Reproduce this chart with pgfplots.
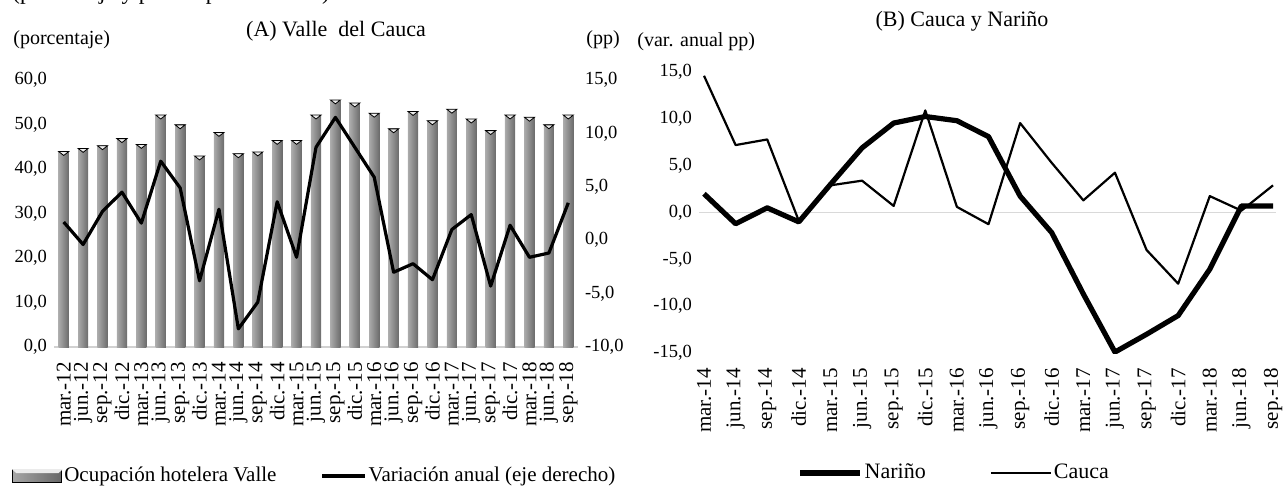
\documentclass[border=0pt]{standalone}
\usepackage{fontspec}
\setmainfont{Liberation Serif}
\usepackage{pgfplots}
\pgfplotsset{compat=1.18}

% 1 px of the reference = 0.5pt, origin at the top left corner
\pgfplotsset{
  panel/.style={
    scale only axis, anchor=south west,
    axis line style={draw=none}, tick style={draw=none},
    /pgf/number format/.cd, fixed, fixed zerofill, precision=1, use comma,
    assume math mode=true, /pgfplots/.cd,
    yticklabel style={font=\fontsize{9.25}{11}\selectfont},
    xticklabel style={rotate=90, anchor=east, font=\fontsize{10.5}{12}\selectfont},
    xticklabel shift=4pt,
    legend cell align=left,
  },
  lineimg/.style={legend image code/.code={\draw[##1] (0pt,0pt) -- (#1,0pt);}},
  % one bar per plot so that every bar gets its own shading
  bar/.style={ybar, bar shift=0pt, bar width=5.1pt, draw=none, forget plot,
    left color=black!33, middle color=black!20, right color=black!58},
}

\begin{document}
\begin{tikzpicture}
\useasboundingbox (0,0) rectangle (644pt,-243.5pt);
\clip (0,0) rectangle (644pt,-243.5pt);

% ---------- (A) Valle del Cauca: bars, left axis
\begin{axis}[panel, at={(27pt,-173.5pt)}, width=262pt, height=133.5pt,
  xmin=-0.5, xmax=26.5, ymin=0, ymax=60, ytick={0,10,...,60},
  xtick={0,...,26},
  xticklabels={mar.-12,jun.-12,sep.-12,dic.-12,mar.-13,jun.-13,sep.-13,dic.-13,
    mar.-14,jun.-14,sep.-14,dic.-14,mar.-15,jun.-15,sep.-15,dic.-15,
    mar.-16,jun.-16,sep.-16,dic.-16,mar.-17,jun.-17,sep.-17,dic.-17,
    mar.-18,jun.-18,sep.-18},
  extra y ticks={0}, extra y tick labels={},
  extra y tick style={grid=major, major grid style={black!18, line width=1pt}},
]
\addplot[bar] coordinates {(0,43.9)};
\addplot[bar] coordinates {(1,44.6)};
\addplot[bar] coordinates {(2,45.2)};
\addplot[bar] coordinates {(3,46.8)};
\addplot[bar] coordinates {(4,45.5)};
\addplot[bar] coordinates {(5,52.1)};
\addplot[bar] coordinates {(6,49.9)};
\addplot[bar] coordinates {(7,42.9)};
\addplot[bar] coordinates {(8,48.2)};
\addplot[bar] coordinates {(9,43.4)};
\addplot[bar] coordinates {(10,43.8)};
\addplot[bar] coordinates {(11,46.4)};
\addplot[bar] coordinates {(12,46.4)};
\addplot[bar] coordinates {(13,52.1)};
\addplot[bar] coordinates {(14,55.5)};
\addplot[bar] coordinates {(15,54.8)};
\addplot[bar] coordinates {(16,52.5)};
\addplot[bar] coordinates {(17,49.0)};
\addplot[bar] coordinates {(18,52.9)};
\addplot[bar] coordinates {(19,50.8)};
\addplot[bar] coordinates {(20,53.4)};
\addplot[bar] coordinates {(21,51.2)};
\addplot[bar] coordinates {(22,48.6)};
\addplot[bar] coordinates {(23,52.1)};
\addplot[bar] coordinates {(24,51.6)};
\addplot[bar] coordinates {(25,49.9)};
\addplot[bar] coordinates {(26,52.1)};
% light bevel on top of each bar
\addplot[only marks, mark=triangle*, mark size=2.9pt,
  mark options={yshift=-0.6pt, rotate=180, yscale=0.45, fill=black!7, draw=none}]
  coordinates {(0,43.9) (1,44.6) (2,45.2) (3,46.8) (4,45.5) (5,52.1) (6,49.9)
    (7,42.9) (8,48.2) (9,43.4) (10,43.8) (11,46.4) (12,46.4) (13,52.1)
    (14,55.5) (15,54.8) (16,52.5) (17,49.0) (18,52.9) (19,50.8) (20,53.4)
    (21,51.2) (22,48.6) (23,52.1) (24,51.6) (25,49.9) (26,52.1)};
\end{axis}

% ---------- (A) annual change, right axis
\begin{axis}[panel, at={(27pt,-173.5pt)}, width=262pt, height=133.5pt,
  xmin=-0.5, xmax=26.5, ymin=-10, ymax=15, ytick={-10,-5,...,15},
  xtick=\empty, yticklabel pos=right, ytick pos=right,
  legend columns=2,
  legend style={at={(-0.080,-0.483)}, anchor=west, draw=none, fill=none,
    inner sep=0pt, font=\fontsize{10.5}{12}\selectfont,
    nodes={inner sep=1pt},
    /tikz/every even column/.append style={column sep=21pt}},
]
\addlegendimage{legend image code/.code={
  \fill[left color=black!35, middle color=black!22, right color=black!60] (0pt,-3.25pt) rectangle (24.5pt,3.25pt);
  \fill[black!8] (0pt,3.25pt) -- (1.8pt,1.6pt) -- (22.7pt,1.6pt) -- (24.5pt,3.25pt) -- cycle;}}
\addlegendentry{Ocupación hotelera Valle}
\addplot[black, line width=1.6pt, line join=round, lineimg=21.5pt]
  coordinates {(0,1.7) (1,-0.4) (2,2.7) (3,4.5) (4,1.6) (5,7.4) (6,4.9)
    (7,-3.8) (8,2.9) (9,-8.3) (10,-5.8) (11,3.6) (12,-1.6) (13,8.7)
    (14,11.5) (15,8.7) (16,5.9) (17,-3.0) (18,-2.2) (19,-3.7) (20,1.0)
    (21,2.4) (22,-4.3) (23,1.4) (24,-1.6) (25,-1.2) (26,3.5)};
\addlegendentry{Variación anual (eje derecho)}
\end{axis}

% ---------- (B) Cauca y Nariño
\begin{axis}[panel, at={(349.5pt,-176.5pt)}, width=288.5pt, height=140.5pt,
  xmin=-0.158, xmax=18.095, ymin=-15, ymax=15, ytick={-15,-10,...,15},
  xtick={0,...,18},
  xticklabels={mar.-14,jun.-14,sep.-14,dic.-14,mar.-15,jun.-15,sep.-15,dic.-15,
    mar.-16,jun.-16,sep.-16,dic.-16,mar.-17,jun.-17,sep.-17,dic.-17,
    mar.-18,jun.-18,sep.-18},
  extra y ticks={0}, extra y tick labels={},
  extra y tick style={grid=major, major grid style={black!15, line width=0.9pt}},
  legend columns=2,
  legend style={at={(0.170,-0.427)}, anchor=west, draw=none, fill=none,
    inner sep=0pt, font=\fontsize{11}{13}\selectfont,
    nodes={inner sep=1pt},
    /tikz/every even column/.append style={column sep=31pt}},
]
\addplot[black, line width=2.6pt, line join=round, lineimg=30pt]
  coordinates {(0,2.0) (1,-1.2) (2,0.5) (3,-1.0) (4,3.0) (5,6.9) (6,9.55)
    (7,10.25) (8,9.8) (9,8.1) (10,1.75) (11,-2.15) (12,-8.7) (13,-14.9)
    (14,-13.0) (15,-11.0) (16,-6.05) (17,0.7) (18,0.7)};
\addlegendentry{Nariño}
\addplot[black, line width=1.1pt, line join=round, lineimg=30pt]
  coordinates {(0,14.6) (1,7.2) (2,7.8) (3,-0.9) (4,2.9) (5,3.4) (6,0.7)
    (7,10.9) (8,0.6) (9,-1.25) (10,9.55) (11,5.3) (12,1.3) (13,4.25)
    (14,-4.0) (15,-7.6) (16,1.75) (17,0.2) (18,2.9)};
\addlegendentry{Cauca}
\end{axis}

% ---------- titles and unit labels
\node[anchor=base west, inner sep=0pt, font=\fontsize{11.5}{13}\selectfont]
  at (6pt,0pt) {(porcentaje y puntos porcentuales)};
\node[anchor=west, inner sep=0pt, font=\fontsize{10}{12}\selectfont]
  at (6.5pt,-20pt) {(porcentaje)};
\node[inner sep=0pt, font=\fontsize{11}{13}\selectfont]
  at (168pt,-15.5pt) {(A) Valle~ del Cauca};
\node[anchor=west, inner sep=0pt, font=\fontsize{10}{12}\selectfont]
  at (293pt,-20pt) {(pp)};
\node[anchor=west, inner sep=0pt, font=\fontsize{10}{12}\selectfont]
  at (318.5pt,-21pt) {(var. anual pp)};
\node[inner sep=0pt, font=\fontsize{11}{13}\selectfont]
  at (481pt,-10.5pt) {(B) Cauca y Nariño};
\end{tikzpicture}
\end{document}
